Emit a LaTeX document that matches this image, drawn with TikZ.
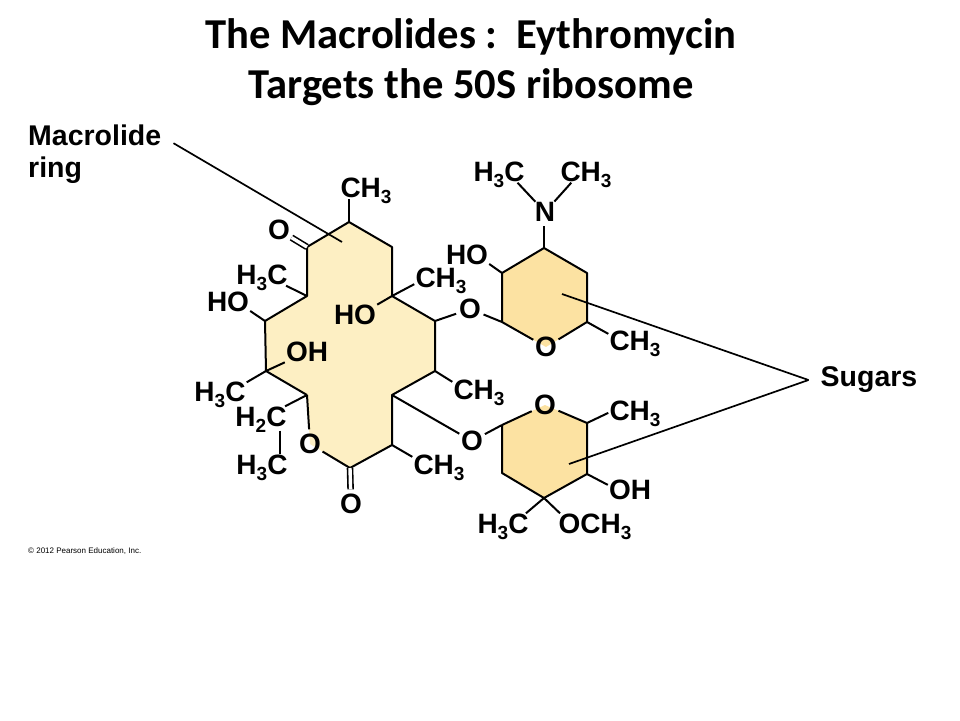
\documentclass[tikz,border=0pt]{standalone}
\usepackage{fontspec}
\setmainfont{Liberation Sans}
\newfontfamily\titlefont{Carlito}
\usetikzlibrary{positioning,calc}
\definecolor{macrocolor}{HTML}{FDEFC3}
\definecolor{sugarcolor}{HTML}{FCE2A2}
\newcommand{\subn}[1]{\raisebox{-6pt}{\fontsize{19}{19}\selectfont #1}}

\begin{document}
\begin{tikzpicture}
    [x=1pt,y=-1pt,
     atom/.style={inner sep=1pt,text height=19pt,text depth=0pt,font=\fontsize{28}{28}\bfseries\selectfont},
     oxy/.style={atom,circle,inner sep=0pt,minimum size=27pt},
     bond/.style={line width=2pt,black},
     dbond/.style={line width=1.6pt,double,double distance=3.4pt,black},
     leader/.style={line width=1.7pt,black},
     label/.style={font=\fontsize{28.5}{32}\bfseries\selectfont,align=left,inner sep=0pt}]

    \useasboundingbox (0,0) rectangle (960,720);

    \node (title) [font=\titlefont\fontsize{42.6}{50}\bfseries\selectfont,align=center,inner sep=0pt] at (471,62.5)
      {The Macrolides :\ \ Eythromycin\\Targets the 50S ribosome};

    \coordinate (m1) at (349,222);
    \coordinate (m2) at (392,247);
    \coordinate (m3) at (392,296);
    \coordinate (m4) at (435,321);
    \coordinate (m5) at (435,371);
    \coordinate (m6) at (392,395);
    \coordinate (m7) at (392,445);
    \coordinate (m8) at (350,468);
    \coordinate (m9) at (307,395);
    \coordinate (m10) at (266,371);
    \coordinate (m11) at (265,321);
    \coordinate (m12) at (307,296);
    \coordinate (m13) at (307,247);
    \coordinate (mo) at (310,444);

    \coordinate (a1) at (544,248);
    \coordinate (a2) at (587,273);
    \coordinate (a3) at (587,322);
    \coordinate (a4) at (502,322);
    \coordinate (a5) at (502,273);
    \coordinate (ao) at (546,347);

    \coordinate (b1) at (587,423);
    \coordinate (b2) at (587,474);
    \coordinate (b3) at (544,498);
    \coordinate (b4) at (502,473);
    \coordinate (b5) at (502,425);
    \coordinate (bo) at (545,405);

    \coordinate (ringmark) at (342,242);
    \coordinate (sugarmarka) at (562,294);
    \coordinate (sugarmarkb) at (569,464);

    \fill[macrocolor] (m1) -- (m2) -- (m3) -- (m4) -- (m5) -- (m6) -- (m7) -- (m8) -- (mo) -- (m9)
      -- (m10) -- (m11) -- (m12) -- (m13) -- cycle;
    \fill[sugarcolor] (a1) -- (a2) -- (a3) -- (ao) -- (a4) -- (a5) -- cycle;
    \fill[sugarcolor] (bo) -- (b1) -- (b2) -- (b3) -- (b4) -- (b5) -- cycle;

    \node[oxy] (oring) at (mo) {O};
    \node[oxy] (oa) at (ao) {O};
    \node[oxy] (ob) at (bo) {O};

    \draw[bond,line join=round] (m8) -- (m7) -- (m6) -- (m5) -- (m4) -- (m3) -- (m2) -- (m1) -- (m13)
      -- (m12) -- (m11) -- (m10) -- (m9);
    \draw[bond] (m9) -- (oring);
    \draw[bond] (m8) -- (oring);
    \draw[bond,line join=round] (a3) -- (a2) -- (a1) -- (a5) -- (a4);
    \draw[bond] (a4) -- (oa);
    \draw[bond] (a3) -- (oa);
    \draw[bond,line join=round] (b1) -- (b2) -- (b3) -- (b4) -- (b5);
    \draw[bond] (b5) -- (ob);
    \draw[bond] (b1) -- (ob);

    \node[atom] (cha) at (366,188) {CH\subn{3}};
    \node[oxy] (oketo) at (279,230) {O};
    \node[atom] (chb) at (262,275) {H\subn{3}C};
    \node[atom] (hoa) at (228,302) {HO};
    \node[atom] (hob) at (355,315) {HO};
    \node[atom] (chc) at (441,278) {CH\subn{3}};
    \node[oxy] (olinka) at (470,309) {O};
    \node[atom] (oha) at (307,352) {OH};
    \node[atom] (chd) at (220,392) {H\subn{3}C};
    \node[atom] (chtwo) at (261,417) {H\subn{2}C};
    \node[atom] (che) at (262,465) {H\subn{3}C};
    \node[oxy] (olactone) at (351,504) {O};
    \node[atom] (chf) at (439,465) {CH\subn{3}};
    \node[atom] (chg) at (479,390) {CH\subn{3}};
    \node[oxy] (olinkb) at (472,441) {O};

    \node[oxy] (nitro) at (545,212) {N};
    \node[atom] (chh) at (499,172) {H\subn{3}C};
    \node[atom] (chi) at (586,172) {CH\subn{3}};
    \node[atom] (hoc) at (467,255) {HO};
    \node[atom] (chj) at (635,341) {CH\subn{3}};

    \node[atom] (chk) at (635,411) {CH\subn{3}};
    \node[atom] (ohb) at (630,490) {OH};
    \node[atom] (chl) at (503,524) {H\subn{3}C};
    \node[atom] (och) at (595,524) {OCH\subn{3}};

    \draw[bond] (m1) -- (m1 |- cha.south);
    \draw[dbond] (m13) -- (oketo);
    \draw[bond] (m12) -- (chb.-24);
    \draw[bond] (m11) -- (hoa.-22);
    \draw[bond] (m3) -- (hob.25);
    \draw[bond] (m3) -- (chc.193);
    \draw[bond] (m4) -- (olinka);
    \draw[bond] (a4) -- (olinka);
    \draw[bond] (m10) -- (oha.205);
    \draw[bond] (m10) -- (chd.20);
    \draw[bond] (m9) -- (chtwo.24);
    \draw[bond,shorten <=3pt] (chtwo.-30) -- (chtwo.-30 |- che.north);
    \draw[dbond] (m8) -- (olactone);
    \draw[bond] (m7) -- (chf.163);
    \draw[bond] (m5) -- (chg.163);
    \draw[bond] (m6) -- (olinkb);
    \draw[bond] (b5) -- (olinkb);

    \draw[bond] (nitro) -- (chh.-30);
    \draw[bond] (nitro) -- (chi.216);
    \draw[bond] (a1) -- (a1 |- nitro.south);
    \draw[bond] (a5) -- (hoc.-22);
    \draw[bond] (a3) -- (chj.165);

    \draw[bond] (b1) -- (chk.184);
    \draw[bond] (b2) -- (ohb.167);
    \draw[bond] (b3) -- (chl.25);
    \draw[bond] (b3) -- (och.163);

    \node[label] (macrolabel) [anchor=west] at (28,154) {Macrolide\\ring};
    \node[label,inner xsep=12pt] (sugars) at (869,380) {Sugars};

    \draw[leader,shorten <=14pt] (macrolabel.15) -- (ringmark);
    \draw[leader] (sugars.west) -- (sugarmarka);
    \draw[leader] (sugars.west) -- (sugarmarkb);

    \node (credit) [font=\fontsize{8}{8}\selectfont,inner sep=0pt,anchor=west] at (28,551) {\textcopyright\ 2012 Pearson Education, Inc.};
  \end{tikzpicture}
\end{document}
